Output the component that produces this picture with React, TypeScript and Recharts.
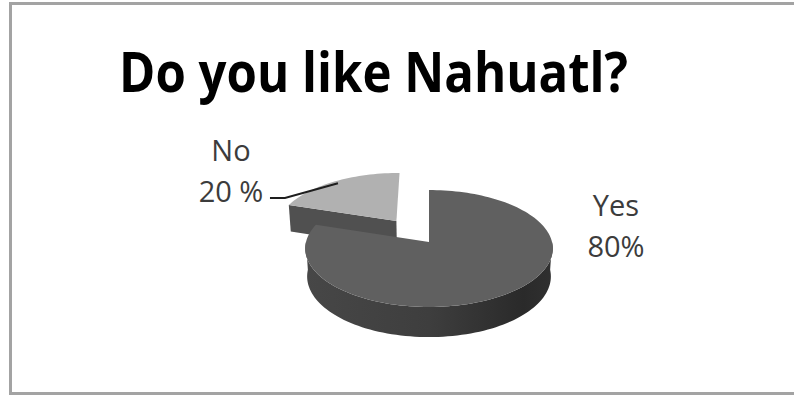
import { Pie, PieChart } from "recharts";

// survey answers, drawn back slice first so the front slice overlaps it
const CATEGORIES = ["No", "Yes"];
const SHARES = [20, 80];
const PCT_SUFFIX = [" %", "%"];
const TITLE = "Do you like Nahuatl?";

const data = CATEGORIES.map((name, i) => ({ name, value: SHARES[i], suffix: PCT_SUFFIX[i] }));

const W = 794;
const H = 396;
const RAD = Math.PI / 180;

// fake 3D: tilt the disc back and give it a bit of perspective
const TILT = 28 * RAD;
const CAM = 7.94;      // camera distance, in radii
const DEPTH = 0.26;    // slab thickness, in radii
const EXPLODE: Record<string, number> = { No: 0.47, Yes: 0 };

const STYLE: Record<string, { top: string; wall: string; side: string[] }> = {
  Yes: { top: "#606060", wall: "#444444", side: ["#474747", "#3e3e3e", "#2a2a2a", "#303030"] },
  No: { top: "#b1b1b1", wall: "#505050", side: ["#555555", "#4c4c4c", "#444444", "#444444"] },
};

const FONT = "'Open Sans', 'Noto Sans', sans-serif";

function project(cx: number, cy: number, r: number, X: number, Z: number, Y: number) {
  const d = r * CAM;
  const yp = Z * Math.sin(TILT) + Y * Math.cos(TILT);
  const zp = Z * Math.cos(TILT) - Y * Math.sin(TILT);
  const s = d / (d + zp);
  return [cx + X * s, cy - yp * s];
}

function Slice3D(props: any) {
  const { cx, cy, outerRadius: r, startAngle, endAngle } = props;
  const name: string = props.name ?? props.payload?.name;
  const st = STYLE[name] ?? STYLE.Yes;
  const a1 = Math.min(startAngle, endAngle);
  const a2 = Math.max(startAngle, endAngle);
  const mid = ((a1 + a2) / 2) * RAD;
  const e = (EXPLODE[name] ?? 0) * r;
  const ox = Math.cos(mid) * e;
  const oz = Math.sin(mid) * e;
  const dep = DEPTH * r;

  const pt = (deg: number, rr: number, y: number) =>
    project(cx, cy, r, ox + rr * Math.cos(deg * RAD), oz + rr * Math.sin(deg * RAD), y);
  const arc = (from: number, to: number, y: number) => {
    const n = Math.max(2, Math.ceil(Math.abs(to - from) / 2));
    const out: number[][] = [];
    for (let i = 0; i <= n; i++) out.push(pt(from + ((to - from) * i) / n, r, y));
    return out;
  };
  const poly = (ps: number[][]) =>
    "M" + ps.map((p) => `${p[0].toFixed(2)},${p[1].toFixed(2)}`).join("L") + "Z";

  // outer rim, only where it faces the viewer
  const sides: string[] = [];
  for (let k = -2; k <= 1; k++) {
    const lo = Math.max(a1, 180 + 360 * k);
    const hi = Math.min(a2, 360 + 360 * k);
    if (hi > lo) sides.push(poly([...arc(lo, hi, 0), ...arc(hi, lo, -dep)]));
  }

  // cut faces along the radii
  const walls: string[] = [];
  const edges: [number, number][] = [[a1, a1 - 90], [a2, a2 + 90]];
  for (const [deg, normal] of edges) {
    if (Math.sin(normal * RAD) < -0.01) {
      walls.push(poly([pt(deg, 0, 0), pt(deg, r, 0), pt(deg, r, -dep), pt(deg, 0, -dep)]));
    }
  }

  const top = poly([pt(0, 0, 0), ...arc(a1, a2, 0)]);
  const gid = `rim-${name}`;

  return (
    <g>
      <defs>
        <linearGradient id={gid} x1="0" y1="0" x2="1" y2="0">
          <stop offset="0" stopColor={st.side[0]} />
          <stop offset="0.5" stopColor={st.side[1]} />
          <stop offset="0.88" stopColor={st.side[2]} />
          <stop offset="1" stopColor={st.side[3]} />
        </linearGradient>
      </defs>
      {walls.map((d, i) => <path key={`w${i}`} d={d} fill={st.wall} />)}
      {sides.map((d, i) => <path key={`s${i}`} d={d} fill={`url(#${gid})`} />)}
      <path d={top} fill={st.top} />
    </g>
  );
}

// labels sit beside the pie; the left one gets a leader back to its slice
function renderLabel(props: any) {
  const { cx, cy, outerRadius: r, midAngle, name, value } = props;
  const suffix = props.payload?.suffix ?? props.suffix ?? "%";
  const right = Math.cos(midAngle * RAD) > 0;
  const x = right ? cx + 1.52 * r : cx - 1.61 * r;
  const y1 = right ? cy - 26 : cy - 81;
  const y2 = y1 + 41;

  let leader = null;
  if (!right) {
    const reach = (EXPLODE[name] ?? 0) * r + 0.95 * r;
    const m = midAngle * RAD;
    const [ax, ay] = project(cx, cy, r, Math.cos(m) * reach, Math.sin(m) * reach, 0);
    const ly = y2 - 4;
    leader = (
      <polyline points={`${x + 39},${ly} ${x + 54},${ly} ${ax},${ay}`}
        fill="none" stroke="#1e1e1e" strokeWidth={2} />
    );
  }

  return (
    <g>
      {leader}
      <text x={x} y={y1} textAnchor="middle" fontFamily={FONT} fontSize={29} fill="#3c3c3c">{name}</text>
      <text x={x} y={y2} textAnchor="middle" fontFamily={FONT} fontSize={29} fill="#3c3c3c">
        {`${value}${suffix}`}
      </text>
    </g>
  );
}

export default function App() {
  return (
    <div style={{ position: "absolute", left: 0, top: 0, width: W, height: H, background: "#fff", overflow: "hidden" }}>
      <PieChart width={W} height={H} style={{ position: "absolute", left: 0, top: 0 }}>
        <Pie
          data={data}
          dataKey="value"
          nameKey="name"
          cx={424}
          cy={237}
          outerRadius={123}
          startAngle={162}
          endAngle={-198}
          stroke="none"
          shape={Slice3D}
          activeShape={Slice3D}
          inactiveShape={Slice3D}
          label={renderLabel}
          labelLine={false}
          isAnimationActive={false}
        />
      </PieChart>
      <svg width={W} height={H} style={{ position: "absolute", left: 0, top: 0, pointerEvents: "none" }}>
        <rect x={10.5} y={3.5} width={800} height={390} fill="none" stroke="#a3a3a3" strokeWidth={3} />
        <text x={119} y={92} fontFamily={FONT} fontWeight={700} fontSize={55}
          textLength={509} lengthAdjust="spacingAndGlyphs" fill="#000">
          {TITLE}
        </text>
      </svg>
    </div>
  );
}
